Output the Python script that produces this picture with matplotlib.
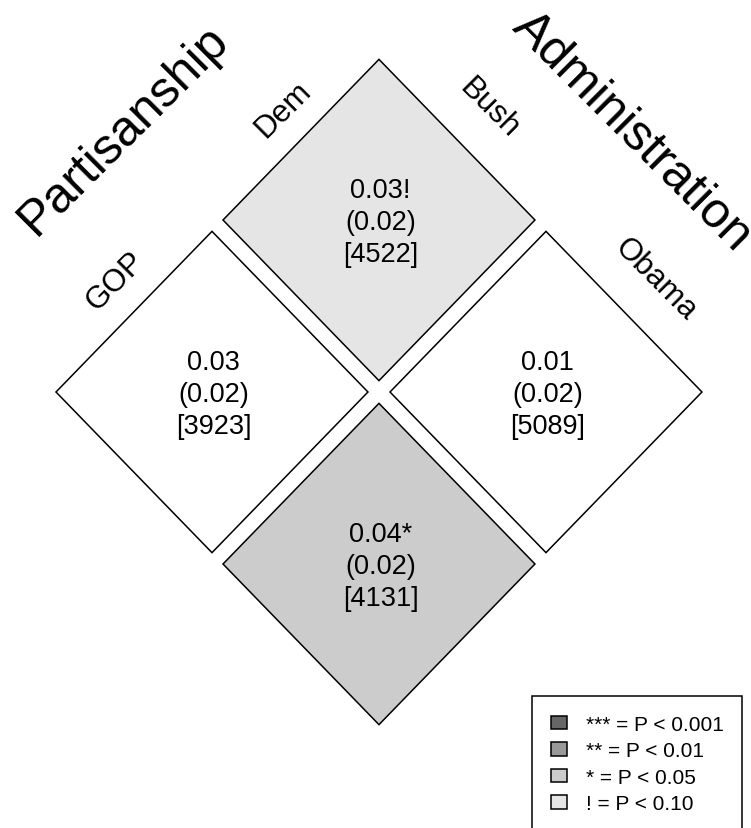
import numpy as np
import matplotlib.pyplot as plt
from matplotlib.patches import Polygon, Patch
from matplotlib.transforms import Affine2D

plt.rcParams['font.family'] = ['Liberation Sans', 'DejaVu Sans']

# rows: partisanship, columns: administration
party = ["GOP", "Dem"]
admin = ["Bush", "Obama"]
est = [[0.03, 0.04],
       [0.03, 0.01]]
se = [[0.02, 0.02],
      [0.02, 0.02]]
n_obs = [[3923, 4131],
         [4522, 5089]]
stars = [["", "*"],
         ["!", ""]]

sig_marks = ["***", "**", "*", "!"]
sig_labels = ["*** = P < 0.001", "** = P < 0.01", "* = P < 0.05", "! = P < 0.10"]
sig_colors = ["#666666", "#999999", "#CCCCCC", "#E5E5E5"]
fill_for = dict(zip(sig_marks, sig_colors))
fill_for[""] = "white"

W, H = 751, 829
fig, ax = plt.subplots(figsize=(W / 100, H / 100), dpi=100)
ax.set_position([0, 0, 1, 1])
ax.set_xlim(0, W)
ax.set_ylim(H, 0)
ax.axis("off")

# rotated grid: u runs along partisanship (up-right), v along administration (down-right)
A = np.array([[167.0, 167.0, 56.0],
              [-172.0, 172.0, 393.0],
              [0.0, 0.0, 1.0]])
grid = Affine2D(A) + ax.transData
side = 0.934  # cell size relative to grid pitch (rest is the gap)

for i in range(len(party)):
    for j in range(len(admin)):
        sq = [(i, j), (i + side, j), (i + side, j + side), (i, j + side)]
        ax.add_patch(Polygon(sq, closed=True, transform=grid,
                             facecolor=fill_for[stars[i][j]],
                             edgecolor="black", linewidth=1.1))
        txt = f"{est[i][j]:.2f}{stars[i][j]}\n({se[i][j]:.2f})\n[{n_obs[i][j]}]"
        ax.text(i + side / 2, j + side / 2 + 0.01, txt, transform=grid,
                ha="center", va="center", fontsize=19.5, linespacing=1.3)

# level labels along the two upper edges
for i, lab in enumerate(party):
    ax.text(i + side / 2 + 0.035, -0.145, lab, transform=grid, rotation=45,
            rotation_mode="anchor", ha="center", va="center", fontsize=22.5)
for j, lab in enumerate(admin):
    ax.text(1 + side + 0.19, j + side / 2, lab, transform=grid, rotation=-45,
            rotation_mode="anchor", ha="center", va="center", fontsize=22.5)

mid = (1 + side) / 2
ax.text(mid, -0.56, "Partisanship", transform=grid, rotation=45,
        rotation_mode="anchor", ha="center", va="center", fontsize=36)
ax.text(1 + side + 0.55, mid, "Administration", transform=grid, rotation=-45,
        rotation_mode="anchor", ha="center", va="center", fontsize=36)

handles = [Patch(facecolor=c, edgecolor="black", linewidth=1.1) for c in sig_colors]
leg = fig.legend(handles, sig_labels, loc="upper left",
                 bbox_to_anchor=(532 / W, 1 - 697 / H), bbox_transform=fig.transFigure,
                 borderaxespad=0, fontsize=15, fancybox=False, framealpha=1,
                 edgecolor="black", borderpad=0.9, labelspacing=0.36,
                 handlelength=0.77, handleheight=0.63, handletextpad=0.9)
leg.get_frame().set_linewidth(1.1)

fig.savefig("out.png", dpi=100)
